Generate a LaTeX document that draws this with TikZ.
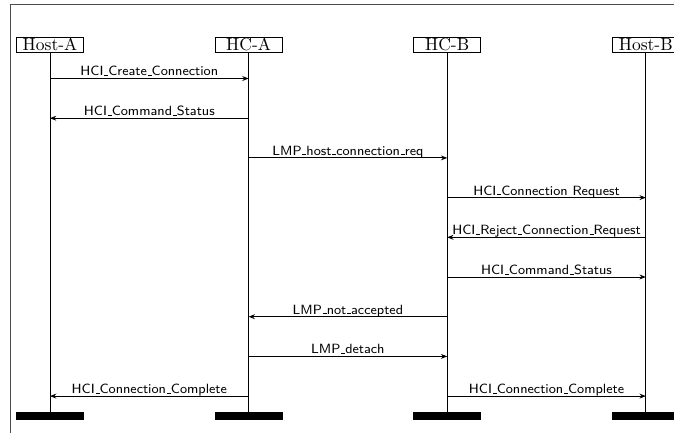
\documentclass[tikz,border=0pt]{standalone}
\usetikzlibrary{arrows.meta}
% narrow baseline rule used as underscore in message names
\newcommand\usc{\leavevmode\kern.06em\vbox{\hrule width.3em height.5pt}}
\begin{document}
\begin{tikzpicture}[x=0.5714pt,y=-0.5714pt,
  party/.style={draw, fill=white, inner sep=0pt, minimum width=38.3pt,
    minimum height=8.3pt, font=\normalsize},
  endbar/.style={fill=black, inner sep=0pt, minimum width=38.9pt, minimum height=4.6pt},
  lifeline/.style={line width=0.5pt},
  msg/.style={-{Stealth[length=3.6pt,width=2.8pt]}, line width=0.5pt},
  msglabel/.style={above, inner sep=0pt, yshift=1.2pt,
    font=\sffamily\fontsize{7.65}{9}\selectfont, text depth=0pt},
  framebox/.style={draw=black!70, line width=0.45pt}
]
\clip (0,0) rectangle (674,433);
\useasboundingbox (0,0) rectangle (674,433);

% enclosing frame
\draw[framebox] (10,433) -- (10,4) -- (674,4);

% parties
\node[party] (ha)  at (50,44.7)    {Host-A};
\node[party] (hca) at (248.6,44.7) {HC-A};
\node[party] (hcb) at (447.2,44.7) {HC-B};
\node[party] (hb)  at (645.8,44.7) {Host-B};

% end-of-life bars
\node[endbar] (ha-end)  at (50,416)    {};
\node[endbar] (hca-end) at (248.6,416) {};
\node[endbar] (hcb-end) at (447.2,416) {};
\node[endbar] (hb-end)  at (645.8,416) {};

% lifelines
\foreach \n in {ha,hca,hcb,hb}
  \draw[lifeline] (\n) -- (\n-end);

% message rows on every lifeline
\foreach \i/\y in {1/78.5,2/118.2,3/157.9,4/197.6,5/237.3,6/277,7/316.7,8/356.4,9/396.1}
  \foreach \n in {ha,hca,hcb,hb}
    \coordinate (\n-\i) at (\n |- 0,\y);

% messages
\draw[msg] (ha-1)  -- node[msglabel] {HCI\usc Create\usc Connection} (hca-1);
\draw[msg] (hca-2) -- node[msglabel] {HCI\usc Command\usc Status} (ha-2);
\draw[msg] (hca-3) -- node[msglabel] {LMP\usc host\usc connection\usc req} (hcb-3);
\draw[msg] (hcb-4) -- node[msglabel] {HCI\usc Connection Request} (hb-4);
\draw[msg] (hb-5)  -- node[msglabel] {HCI\usc Reject\usc Connection\usc Request} (hcb-5);
\draw[msg] (hcb-6) -- node[msglabel] {HCI\usc Command\usc Status} (hb-6);
\draw[msg] (hcb-7) -- node[msglabel] {LMP\usc not\usc accepted} (hca-7);
\draw[msg] (hca-8) -- node[msglabel] {LMP\usc detach} (hcb-8);
\draw[msg] (hca-9) -- node[msglabel] {HCI\usc Connection\usc Complete} (ha-9);
\draw[msg] (hcb-9) -- node[msglabel] {HCI\usc Connection\usc Complete} (hb-9);
\end{tikzpicture}
\end{document}
